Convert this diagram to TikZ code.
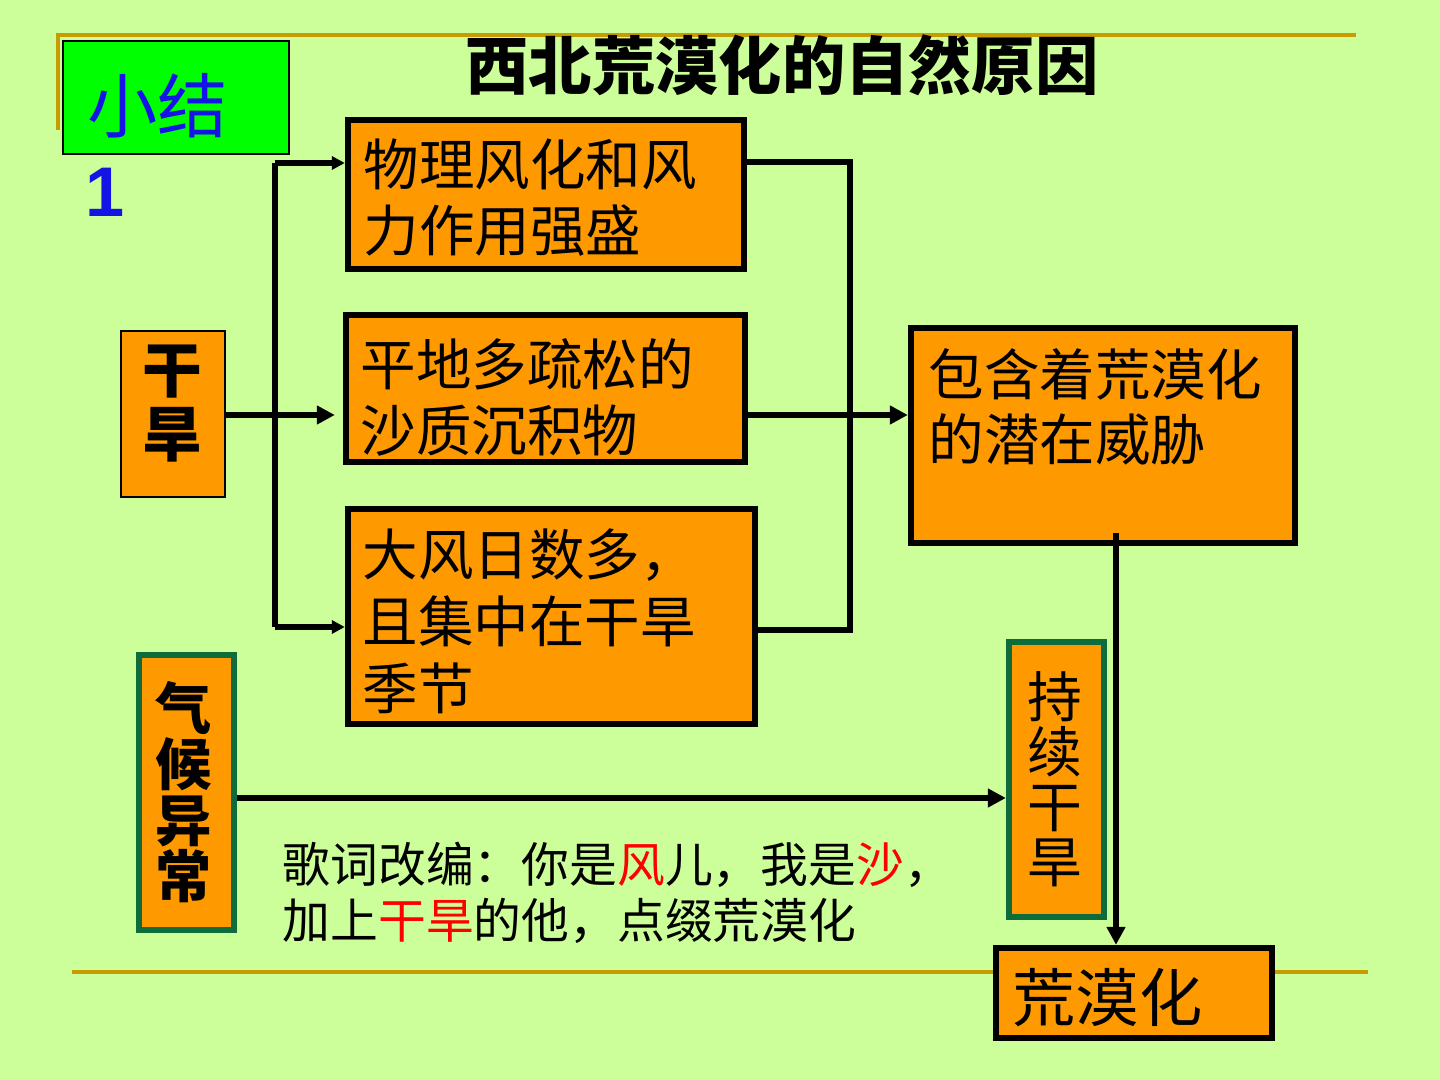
\documentclass[tikz,border=0pt]{standalone}
\usepackage{fontspec}
\setmainfont{Noto Sans CJK SC}
\newfontfamily\numfont{Liberation Sans}
\usetikzlibrary{arrows.meta}
\definecolor{bgGreen}{HTML}{CCFF99}
\definecolor{boxOrange}{HTML}{FF9900}
\definecolor{ruleOlive}{HTML}{C89B00}
\definecolor{borderGreen}{HTML}{0E6B3A}
\definecolor{tagGreen}{HTML}{00FF00}
\definecolor{tagBlue}{HTML}{1414E6}
\definecolor{lyricRed}{HTML}{FF0000}
\tikzset{
  box/.style={draw, fill=boxOrange, line width=1.8pt},
  gbox/.style={draw=borderGreen, fill=boxOrange, line width=1.8pt},
  thinbox/.style={draw, line width=0.6pt},
  link/.style={line width=1.55pt},
  arr/.style={link, -{Triangle[length=0.18cm,width=0.18cm]}},
  smallarr/.style={link, -{Triangle[length=0.13cm,width=0.13cm]}},
  txt/.style={anchor=north west, inner sep=0pt, align=left},
  vtxt/.style={inner sep=0pt, align=center},
}
\begin{document}
\begin{tikzpicture}
    % Hintergrund
    \fill[bgGreen] (0,0) rectangle (14.4,-10.8);
    \useasboundingbox (0,0) rectangle (14.4,-10.8);
    % Linien oben und unten
    \draw[ruleOlive, line width=0.045cm] (0.58,-1.30) -- (0.58,-0.35) -- (13.56,-0.35);
    \draw[ruleOlive, line width=0.045cm] (0.72,-9.72) -- (13.68,-9.72);
    % Titel
    \node[inner sep=0pt, font=\fontsize{18}{20}\selectfont\bfseries] (title) at (7.82,-0.65) {西北荒漠化的自然原因};
    % Kennzeichnung
    \node[thinbox, fill=tagGreen, minimum width=2.26cm, minimum height=1.13cm] (tag) at (1.76,-0.975) {};
    \node[inner sep=0pt, text=tagBlue, font=\fontsize{20}{22}\selectfont] at (1.58,-1.06) {小结};
    \node[inner sep=0pt, text=tagBlue, font=\numfont\fontsize{20}{22}\selectfont\bfseries] (tagnum) at (1.05,-1.92) {1};
    % Ursache links
    \node[thinbox, fill=boxOrange, minimum width=1.04cm, minimum height=1.66cm] (drought) at (1.73,-4.14) {};
    \node[vtxt, font=\fontsize{17}{18.2}\selectfont\bfseries] at (1.72,-4.04) {干\\旱};
    % drei Faktoren
    \node[box, minimum width=3.96cm, minimum height=1.49cm] (phys) at (5.46,-1.945) {};
    \node[txt, font=\fontsize{15.8}{18.8}\selectfont] at (3.63,-1.38) {物理风化和风\\力作用强盛};
    \node[box, minimum width=3.99cm, minimum height=1.47cm] (flat) at (5.455,-3.885) {};
    \node[txt, font=\fontsize{15.8}{18.8}\selectfont] at (3.60,-3.38) {平地多疏松的\\沙质沉积物};
    \node[box, minimum width=4.07cm, minimum height=2.15cm] (wind) at (5.515,-6.165) {};
    \node[txt, font=\fontsize{15.8}{19}\selectfont] at (3.62,-5.28) {大风日数多，\\且集中在干旱\\季节};
    % Folge
    \node[box, minimum width=3.84cm, minimum height=2.15cm] (threat) at (11.03,-4.355) {};
    \node[txt, font=\fontsize{15.8}{18.5}\selectfont] at (9.28,-3.48) {包含着荒漠化\\的潜在威胁};
    \node[gbox, minimum width=0.95cm, minimum height=2.75cm] (persist) at (10.565,-7.795) {};
    \node[vtxt, font=\fontsize{15.6}{15.7}\selectfont] at (10.55,-7.79) {持\\续\\干\\旱};
    \node[gbox, minimum width=0.95cm, minimum height=2.75cm] (climate) at (1.865,-7.925) {};
    \node[vtxt, font=\fontsize{16}{16}\selectfont\bfseries] at (1.84,-7.92) {气\\候\\异\\常};
    \node[box, minimum width=2.76cm, minimum height=0.90cm] (desert) at (11.34,-9.93) {};
    \node[txt, font=\fontsize{18}{20}\selectfont] at (10.12,-9.68) {荒漠化};
    % Liedtext
    \node[txt, font=\fontsize{13.6}{15.9}\selectfont] (lyric) at (2.82,-8.41) {歌词改编：你是\textcolor{lyricRed}{风}儿，我是\textcolor{lyricRed}{沙}，\\加上\textcolor{lyricRed}{干旱}的他，点缀荒漠化};
    % Verbindungen
    \coordinate (forkT) at (2.75,-1.63);
    \coordinate (forkB) at (2.75,-6.27);
    \coordinate (joinT) at (8.50,-1.62);
    \coordinate (joinB) at (8.50,-6.30);
    \coordinate (midrow) at (0,-4.15);
    \coordinate (climrow) at (0,-7.98);
    \coordinate (drop) at (11.16,-5.33);
    \draw[link] (forkT) -- (forkB);
    \draw[smallarr] (forkT) -- (forkT -| phys.west);
    \draw[smallarr] (forkB) -- (forkB -| wind.west);
    \draw[arr, shorten >=0.08cm] (drought.east |- midrow) -- (flat.west |- midrow);
    \draw[link] (phys.east |- joinT) -- (joinT) -- (joinB) -- (wind.east |- joinB);
    \draw[arr] (flat.east |- midrow) -- (threat.west |- midrow);
    \draw[arr] (drop) -- (drop |- desert.north);
    \draw[arr] (climate.east |- climrow) -- (persist.west |- climrow);
\end{tikzpicture}
\end{document}
